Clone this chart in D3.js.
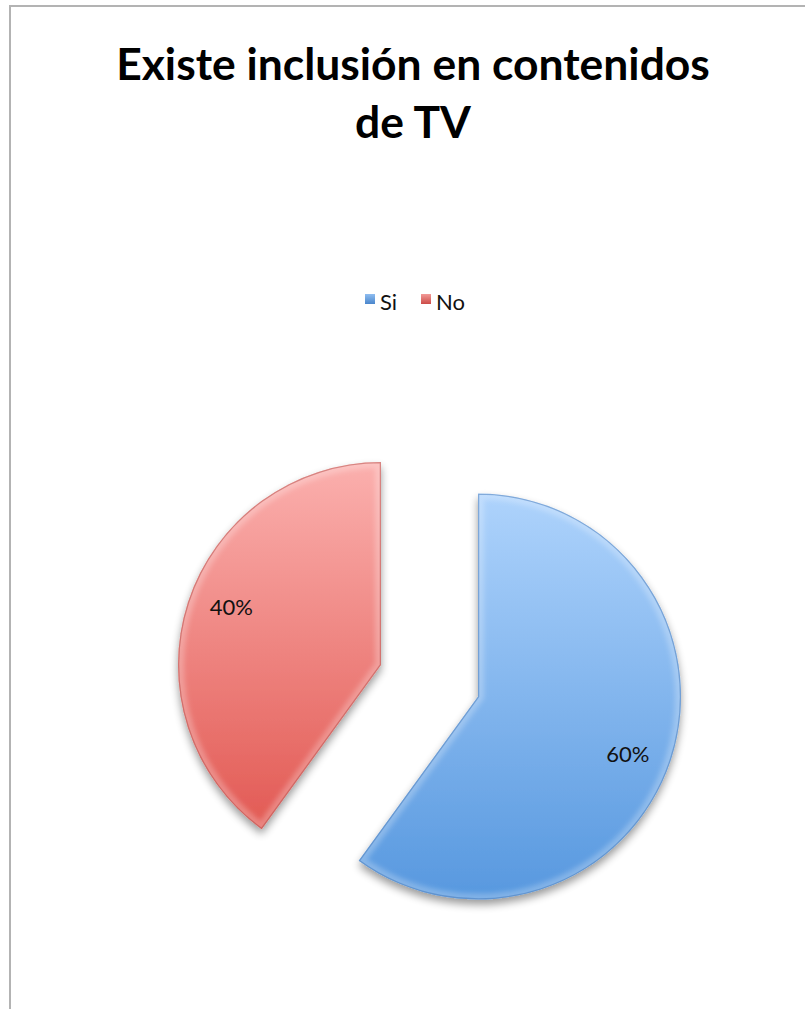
<!DOCTYPE html>
<html>
<head>
<meta charset="utf-8">
<script src="https://cdn.jsdelivr.net/npm/d3@7"></script>
<style>
  html, body { margin: 0; padding: 0; background: #ffffff; }
  svg { display: block; }
</style>
</head>
<body>
<svg id="chart" width="805" height="1009"></svg>
<script>
// ---- data ----
const titleLines = ["Existe inclusión en contenidos", "de TV"];
const categories = ["Si", "No"];
const values = [60, 40];
const valueLabels = ["60%", "40%"];

// ---- styling / layout constants ----
const W = 805, H = 1009;
const FONT = "Lato, 'Open Sans', 'Liberation Sans', sans-serif";
const pieCenter = { x: 381, y: 665 };
const radius = 203;
const explodeBy = [102, 0];
const labelAngleShift = 3 * Math.PI / 180;
const palette = {
  Si: { top: "#aed3fc", bottom: "#5798df", rim: "#3f76b8", legend: ["#8fbdf0", "#4a86cc"] },
  No: { top: "#fbb0ae", bottom: "#e25a54", rim: "#b34542", legend: ["#f29a97", "#cc4b47"] }
};

const svg = d3.select("#chart");
const defs = svg.append("defs");

// frame (left and top edge visible)
svg.append("rect")
  .attr("x", 10).attr("y", 6)
  .attr("width", W + 40).attr("height", H + 40)
  .attr("fill", "#ffffff")
  .attr("stroke", "#b3b3b3").attr("stroke-width", 2);

// title
const title = svg.append("g");
titleLines.forEach((t, i) => {
  title.append("text")
    .attr("x", 413).attr("y", 80 + i * 58)
    .attr("text-anchor", "middle")
    .style("font-family", FONT)
    .style("font-weight", 700)
    .style("font-size", "40px")
    .attr("fill", "#000")
    .text(t);
});
(function fitTitle() {
  const first = title.select("text").node();
  const len = first.getComputedTextLength();
  const fs = 40 * 594 / len;
  title.selectAll("text").style("font-size", fs + "px");
})();

// shadow filter
const shadow = defs.append("filter").attr("id", "shadow")
  .attr("x", "-20%").attr("y", "-20%").attr("width", "140%").attr("height", "140%");
shadow.append("feGaussianBlur").attr("in", "SourceAlpha").attr("stdDeviation", 4).attr("result", "blur");
shadow.append("feOffset").attr("in", "blur").attr("dx", 0).attr("dy", 5).attr("result", "off");
shadow.append("feComponentTransfer").attr("in", "off").attr("result", "offA")
  .append("feFuncA").attr("type", "linear").attr("slope", 0.4);
const merge = shadow.append("feMerge");
merge.append("feMergeNode").attr("in", "offA");
merge.append("feMergeNode").attr("in", "SourceGraphic");

// soft bevel blur
const soft = defs.append("filter").attr("id", "soft");
soft.append("feGaussianBlur").attr("stdDeviation", 2.5);

// pie
const pie = d3.pie().sort(null).startAngle(0).endAngle(2 * Math.PI);
const arcs = pie(values);
const arc = d3.arc().innerRadius(0).outerRadius(radius);
const lr = radius * 0.79;

const slices = svg.append("g");
arcs.forEach((d, i) => {
  const cat = categories[i];
  const col = palette[cat];
  const mid = (d.startAngle + d.endAngle) / 2;
  const ox = pieCenter.x + explodeBy[i] * Math.sin(mid);
  const oy = pieCenter.y - explodeBy[i] * Math.cos(mid);

  const grad = defs.append("linearGradient")
    .attr("id", "grad" + i).attr("x1", 0).attr("y1", 0).attr("x2", 0).attr("y2", 1);
  grad.append("stop").attr("offset", "0%").attr("stop-color", col.top);
  grad.append("stop").attr("offset", "100%").attr("stop-color", col.bottom);

  const clip = defs.append("clipPath").attr("id", "clip" + i);
  clip.append("path").attr("d", arc(d));

  const g = slices.append("g").attr("transform", `translate(${ox},${oy})`);
  g.append("path").attr("d", arc(d))
    .attr("fill", `url(#grad${i})`)
    .attr("filter", "url(#shadow)");
  // bevel: soft light band inside the edge, darker thin rim
  const bevel = g.append("g").attr("clip-path", `url(#clip${i})`);
  bevel.append("path").attr("d", arc(d))
    .attr("fill", "none")
    .attr("stroke", "#ffffff").attr("stroke-opacity", 0.25)
    .attr("stroke-width", 12)
    .attr("stroke-linejoin", "round")
    .attr("filter", "url(#soft)");
  bevel.append("path").attr("d", arc(d))
    .attr("fill", "none")
    .attr("stroke", col.rim).attr("stroke-opacity", 0.5)
    .attr("stroke-width", 2.5)
    .attr("stroke-linejoin", "round");

  const la = mid + labelAngleShift;
  g.append("text")
    .attr("x", lr * Math.sin(la)).attr("y", -lr * Math.cos(la))
    .attr("dy", "0.35em")
    .attr("text-anchor", "middle")
    .style("font-family", FONT)
    .style("font-size", "22px")
    .attr("fill", "#111")
    .text(valueLabels[i]);
});

// legend
const legendX = [365, 421];
const legend = svg.append("g");
categories.forEach((cat, i) => {
  const col = palette[cat];
  const lg = defs.append("linearGradient")
    .attr("id", "lg" + i).attr("x1", 0).attr("y1", 0).attr("x2", 0).attr("y2", 1);
  lg.append("stop").attr("offset", "0%").attr("stop-color", col.legend[0]);
  lg.append("stop").attr("offset", "100%").attr("stop-color", col.legend[1]);
  legend.append("rect")
    .attr("x", legendX[i]).attr("y", 294)
    .attr("width", 10).attr("height", 10)
    .attr("fill", `url(#lg${i})`);
  legend.append("text")
    .attr("x", legendX[i] + 15).attr("y", 310)
    .style("font-family", FONT)
    .style("font-size", "22px")
    .attr("fill", "#111")
    .text(cat);
});
</script>
</body>
</html>
